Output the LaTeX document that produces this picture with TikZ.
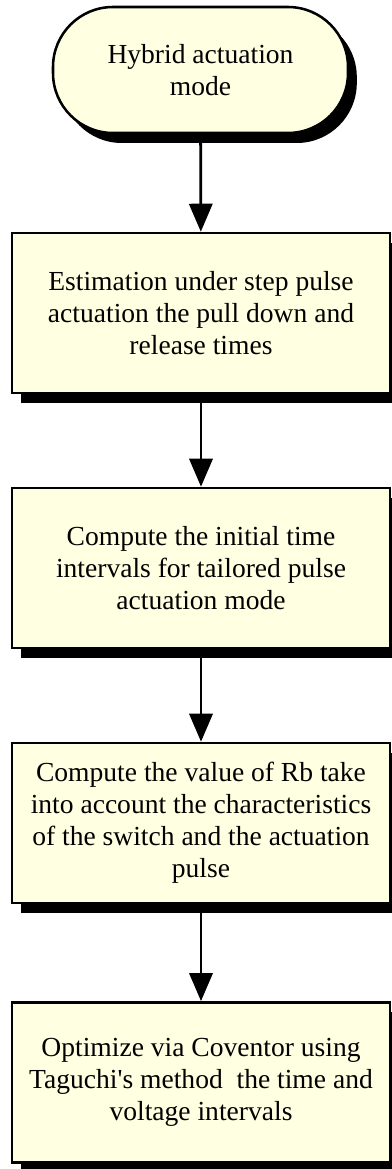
\documentclass[tikz,border=0pt]{standalone}
\usepackage{fontspec}
\setmainfont{Liberation Serif}
\usepackage{tikz}
\usetikzlibrary{shapes,arrows.meta,positioning,calc,shadows}
\definecolor{cream}{RGB}{255,255,225}

\begin{document}
\begin{tikzpicture}[node distance=6.375cm, auto]
\tikzstyle{block} = [rectangle, draw, line width=1.8pt, fill=cream, align=center, minimum width=9.45cm, minimum height=4cm, font=\fontsize{19.6}{22.8}\selectfont, drop shadow={shadow xshift=0.22cm, shadow yshift=-0.25cm, fill=black, opacity=1}]
\tikzstyle{terminal} = [block, rounded corners=1.5cm, minimum width=7.375cm, minimum height=3.15cm]
\tikzstyle{line} = [draw, line width=2pt, -{Triangle[length=0.7cm, width=0.58cm]}]

\useasboundingbox (-5.0125,1.75) rectangle (4.7625,-27.475);

\node [terminal] (start) {Hybrid actuation\\mode};
\node [block, below of=start, yshift=0.3cm, xshift=0.0125cm] (estimate) {Estimation under step pulse\\actuation the pull down and\\release times};
\node [block, below of=estimate] (intervals) {Compute the initial time\\intervals for tailored pulse\\actuation mode};
\node [block, below of=intervals] (resistor) {Compute the value of Rb take\\into account the characteristics\\of the switch and the actuation\\pulse};
\node [block, below of=resistor, yshift=-0.11cm] (optimize) {Optimize via Coventor using\\Taguchi\textquotesingle s method~ the time and\\voltage intervals};

\path [line] (start) -- (estimate);
\path [line] (estimate) -- (intervals);
\path [line] (intervals) -- (resistor);
\path [line] (resistor) -- (optimize);

\end{tikzpicture}
\end{document}
